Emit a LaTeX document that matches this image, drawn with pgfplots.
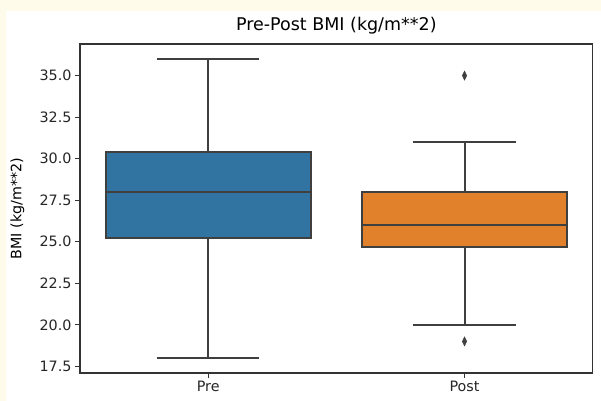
\documentclass[border=0pt]{standalone}
\usepackage{fontspec}
\setmainfont{DejaVu Sans}
\usepackage{pgfplots}
\pgfplotsset{compat=1.18}

\definecolor{pagebg}{RGB}{255,251,235}
\definecolor{preblue}{HTML}{3274A1}
\definecolor{postorange}{HTML}{E1812C}
\definecolor{linegray}{HTML}{3F3F3F}
\definecolor{spine}{HTML}{333333}

\pgfplotsset{bx/.style={draw=linegray, line width=2bp, solid, mark=none}}

\begin{document}
\begin{tikzpicture}
\useasboundingbox (0bp,0bp) rectangle (601bp,401bp);
\fill[pagebg] (0bp,0bp) rectangle (601bp,401bp);
\fill[white] (6bp,0bp) rectangle (601bp,390bp);
\begin{axis}[
  at={(80bp,28bp)}, anchor=south west,
  scale only axis, width=512.7bp, height=329bp,
  xmin=-0.5, xmax=1.5, ymin=17.1, ymax=36.9,
  xtick={0,1}, xticklabels={Pre,Post},
  ytick={17.5,20,22.5,25,27.5,30,32.5,35},
  /pgf/number format/assume math mode=true,
  yticklabel style={/pgf/number format/.cd, fixed, fixed zerofill, precision=1},
  tick align=outside, tick pos=left,
  major tick length=5bp,
  tick style={spine, line width=1bp},
  axis line style={spine, line width=1.2bp},
  ticklabel style={font=\fontsize{14.3bp}{16bp}\selectfont, text=black!85},
  title={Pre-Post BMI (kg/m**2)},
  title style={font=\fontsize{17.5bp}{20bp}\selectfont, anchor=base, at={(0.5,1)}, yshift=8bp, inner sep=0pt},
  ylabel={BMI (kg/m**2)},
  ylabel style={font=\fontsize{14.3bp}{16bp}\selectfont, at={(axis description cs:-0.122,0.5)}, anchor=center, inner sep=0pt},
]
% ---- Pre: whiskers 18--36, box 25.25--30.4, median 28
\addplot[bx] coordinates {(0,30.4) (0,36)};
\addplot[bx] coordinates {(0,18) (0,25.25)};
\addplot[bx] coordinates {(-0.2,36) (0.2,36)};
\addplot[bx] coordinates {(-0.2,18) (0.2,18)};
\addplot[bx, fill=preblue] coordinates {(-0.4,25.25) (0.4,25.25) (0.4,30.4) (-0.4,30.4)} -- cycle;
\addplot[bx] coordinates {(-0.4,28) (0.4,28)};
% ---- Post: whiskers 20--31, box 24.7--28, median 26
\addplot[bx] coordinates {(1,28) (1,31)};
\addplot[bx] coordinates {(1,20) (1,24.7)};
\addplot[bx] coordinates {(0.8,31) (1.2,31)};
\addplot[bx] coordinates {(0.8,20) (1.2,20)};
\addplot[bx, fill=postorange] coordinates {(0.6,24.7) (1.4,24.7) (1.4,28) (0.6,28)} -- cycle;
\addplot[bx] coordinates {(0.6,26) (1.4,26)};
% Post outliers
\addplot[only marks, mark=diamond*, mark size=4.5bp, line width=0.5bp,
  mark options={xscale=0.65, fill=linegray, draw=linegray}]
  coordinates {(1,35) (1,19)};
\end{axis}
\end{tikzpicture}
\end{document}
